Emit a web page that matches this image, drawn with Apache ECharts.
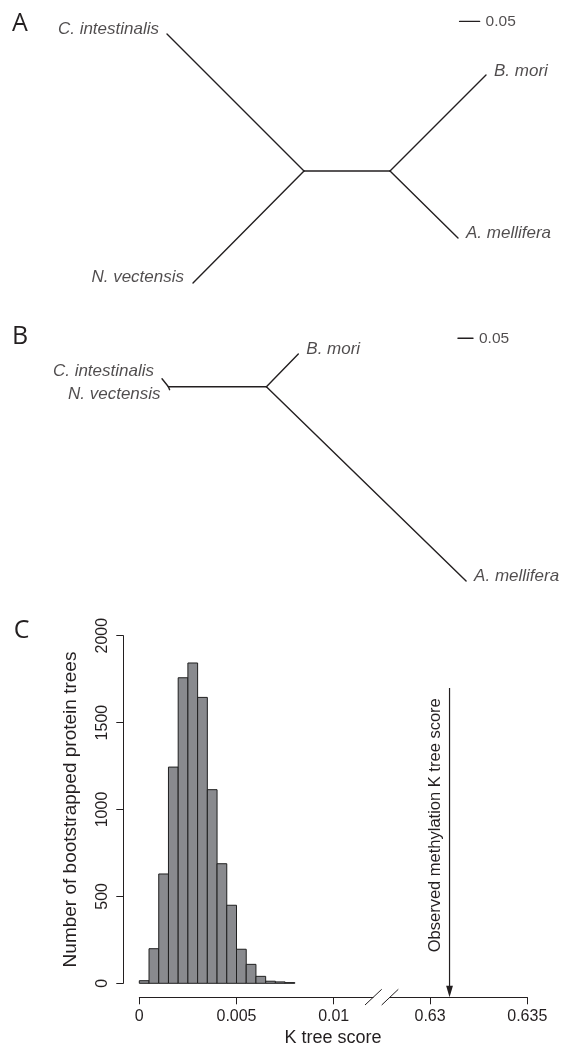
<!DOCTYPE html>
<html><head><meta charset="utf-8">
<script src="https://cdn.jsdelivr.net/npm/echarts@6/dist/echarts.min.js"></script>
<style>html,body{margin:0;padding:0;background:#fff}#c{width:562px;height:1056px}</style>
</head><body><div id="c"></div><script>
// ---------------- DATA ----------------
const taxa = ['C. intestinalis', 'N. vectensis', 'B. mori', 'A. mellifera'];
// Tree A (branch-length units, relative to the C/N internal node)
const treeA_innerX = [0, 0.215];
const treeA_innerY = [0, 0];
const treeA_tipX = [-0.3425, -0.2775, 0.455, 0.385];
const treeA_tipY = [0.3425, -0.28, 0.24, -0.1675];
const treeA_tipParent = [0, 0, 1, 1];
// Tree B
const treeB_innerX = [0, 0.3267];
const treeB_innerY = [0, 0];
const treeB_tipX = [-0.0213, 0.004, 0.433, 0.9923];
const treeB_tipY = [0.0267, -0.01, 0.109, -0.6477];
const treeB_tipParent = [0, 0, 1, 1];
const innerEdges = [[0, 1]];
const scaleBarLength = 0.05;
const scaleBarLabel = '0.05';
// Histogram C
const binEdges = [0, 0.0005, 0.001, 0.0015, 0.002, 0.0025, 0.003, 0.0035, 0.004, 0.0045, 0.005, 0.0055, 0.006, 0.0065, 0.007, 0.0075, 0.008];
const binCounts = [15, 199, 629, 1244, 1758, 1843, 1645, 1114, 688, 449, 196, 109, 40, 12, 8, 4];
const yTicks = [0, 500, 1000, 1500, 2000];
const xTicksLeft = [0, 0.005, 0.01];
const xTicksRight = [0.63, 0.635];
const observedK = 0.631;
const observedLabel = 'Observed methylation K tree score';
const xTitle = 'K tree score';
const yTitle = 'Number of bootstrapped protein trees';

// ---------------- LAYOUT ----------------
const FONT = '"Liberation Sans", Arial, Helvetica, sans-serif';
const INK = '#231f20';
const W = 562;
const LA = {top: 0, height: 300, ox: 304, oy: 171, ppu: 400, bar: [0.389, 0.374]};
const LB = {top: 300, height: 320, ox: 168.4, oy: 86.7, ppu: 300, bar: [0.9653, 0.1613]};
const labelLayoutA = [
  {pos: 'left', dist: 8, off: [0, -5]},
  {pos: 'left', dist: 9, off: [0, -6]},
  {pos: 'right', dist: 8, off: [0, -4]},
  {pos: 'right', dist: 8, off: [0, -5]}
];
const labelLayoutB = [
  {pos: 'left', dist: 8, off: [0, -7]},
  {pos: 'left', dist: 9, off: [0, 5]},
  {pos: 'right', dist: 8, off: [0, -5]},
  {pos: 'right', dist: 8, off: [0, -5]}
];
const C1 = {left: 139.3, top: 635.7, width: 233.7, height: 347.6};
const pxPerK = 97.2 / 0.005;
const C2 = {left: 390, top: 688, width: 137.3, height: 309.3};

function treeAxes(L, gi) {
  return {
    x: {gridIndex: gi, type: 'value', show: false, min: -L.ox / L.ppu, max: (W - L.ox) / L.ppu},
    y: {gridIndex: gi, type: 'value', show: false, min: -(L.height - L.oy) / L.ppu, max: L.oy / L.ppu}
  };
}
function segs(ix, iy, tx, ty, par) {
  const s = [];
  innerEdges.forEach(([a, b]) => s.push([ix[a], iy[a], ix[b], iy[b]]));
  tx.forEach((x, i) => s.push([ix[par[i]], iy[par[i]], x, ty[i]]));
  return s;
}
function segSeries(gi, data, lw) {
  return {
    type: 'custom', coordinateSystem: 'cartesian2d', xAxisIndex: gi, yAxisIndex: gi,
    data: data, encode: {x: [0, 2], y: [1, 3]}, clip: false, silent: true,
    renderItem(params, api) {
      const a = api.coord([api.value(0), api.value(1)]);
      const b = api.coord([api.value(2), api.value(3)]);
      return {type: 'line', shape: {x1: a[0], y1: a[1], x2: b[0], y2: b[1]},
        style: {stroke: INK, lineWidth: lw, lineCap: 'round'}};
    }
  };
}
function labelSeries(gi, tx, ty, names, lay) {
  return {
    type: 'scatter', xAxisIndex: gi, yAxisIndex: gi, symbolSize: 0, silent: true,
    data: tx.map((x, i) => ({value: [x, ty[i]], name: names[i],
      label: {position: lay[i].pos, distance: lay[i].dist, offset: lay[i].off}})),
    label: {show: true, formatter: '{b}', fontFamily: FONT, fontStyle: 'italic', fontSize: 17, color: INK}
  };
}
function barSeries(gi, L) {
  const x0 = L.bar[0], y0 = L.bar[1];
  return [
    segSeries(gi, [[x0, y0, x0 + scaleBarLength, y0]], 1.4),
    {type: 'scatter', xAxisIndex: gi, yAxisIndex: gi, symbolSize: 0, silent: true,
      data: [{value: [x0 + scaleBarLength, y0], name: scaleBarLabel}],
      label: {show: true, position: 'right', distance: 6, formatter: '{b}', fontFamily: FONT, fontSize: 15.5, color: INK}}
  ];
}

const aA = treeAxes(LA, 0), aB = treeAxes(LB, 1);
const axisText = {fontFamily: FONT, fontSize: 16, color: INK};

const option = {
  animation: false,
  backgroundColor: '#fff',
  grid: [
    {left: 0, top: LA.top, width: W, height: LA.height, outerBoundsMode: 'none'},
    {left: 0, top: LB.top, width: W, height: LB.height, outerBoundsMode: 'none'},
    {left: C1.left, top: C1.top, width: C1.width, height: C1.height, outerBoundsMode: 'none'},
    {left: C2.left, top: C2.top, width: C2.width, height: C2.height, outerBoundsMode: 'none'}
  ],
  xAxis: [aA.x, aB.x,
    {gridIndex: 2, type: 'value', min: 0, max: C1.width / pxPerK, offset: 14,
      axisLine: {show: true, onZero: false, lineStyle: {color: INK, width: 1}},
      axisTick: {show: true, length: 7, customValues: xTicksLeft, lineStyle: {color: INK}},
      axisLabel: Object.assign({show: true, margin: 11, customValues: xTicksLeft, formatter: v => String(v)}, axisText),
      splitLine: {show: false}},
    {gridIndex: 3, type: 'value', min: 0.635 - C2.width / pxPerK, max: 0.635,
      axisLine: {show: true, onZero: false, lineStyle: {color: INK, width: 1}},
      axisTick: {show: true, length: 7, customValues: xTicksRight, lineStyle: {color: INK}},
      axisLabel: Object.assign({show: true, margin: 11, customValues: xTicksRight, formatter: v => String(v)}, axisText),
      splitLine: {show: false}}
  ],
  yAxis: [aA.y, aB.y,
    {gridIndex: 2, type: 'value', min: yTicks[0], max: yTicks[yTicks.length - 1], interval: 500, offset: 16,
      axisLine: {show: true, onZero: false, lineStyle: {color: INK, width: 1}},
      axisTick: {show: true, length: 7, lineStyle: {color: INK}},
      axisLabel: Object.assign({show: true, rotate: 90, margin: 13, formatter: v => String(v)}, axisText),
      splitLine: {show: false},
      name: yTitle, nameLocation: 'middle', nameGap: 43,
      nameTextStyle: {fontFamily: FONT, fontSize: 19, color: INK}},
    {gridIndex: 3, type: 'value', show: false, min: 0, max: 1}
  ],
  series: [
    segSeries(0, segs(treeA_innerX, treeA_innerY, treeA_tipX, treeA_tipY, treeA_tipParent), 1.4),
    labelSeries(0, treeA_tipX, treeA_tipY, taxa, labelLayoutA),
    ...barSeries(0, LA),
    segSeries(1, segs(treeB_innerX, treeB_innerY, treeB_tipX, treeB_tipY, treeB_tipParent), 1.4),
    labelSeries(1, treeB_tipX, treeB_tipY, taxa, labelLayoutB),
    ...barSeries(1, LB),
    {type: 'custom', coordinateSystem: 'cartesian2d', xAxisIndex: 2, yAxisIndex: 2, silent: true,
      data: binCounts.map((c, i) => [binEdges[i], binEdges[i + 1], c]),
      encode: {x: [0, 1], y: 2},
      renderItem(params, api) {
        const p0 = api.coord([api.value(0), api.value(2)]);
        const p1 = api.coord([api.value(1), 0]);
        return {type: 'rect', shape: {x: p0[0], y: p0[1], width: p1[0] - p0[0], height: p1[1] - p0[1]},
          style: {fill: '#898a8e', stroke: '#1f1f1f', lineWidth: 1}};
      }},
    {type: 'custom', coordinateSystem: 'cartesian2d', xAxisIndex: 3, yAxisIndex: 3, silent: true, clip: false,
      data: [[observedK, 0]], encode: {x: 0, y: 1},
      renderItem(params, api) {
        const top = api.coord([api.value(0), 1]);
        const tip = api.coord([api.value(0), 0]);
        const head = 11.5, hw = 3.4;
        return {type: 'group', children: [
          {type: 'line', shape: {x1: top[0], y1: top[1], x2: tip[0], y2: tip[1] - head + 1},
            style: {stroke: INK, lineWidth: 1.2}},
          {type: 'polygon', shape: {points: [[tip[0] - hw, tip[1] - head], [tip[0] + hw, tip[1] - head], [tip[0], tip[1]]]},
            style: {fill: INK}},
          {type: 'text', x: tip[0] - 14.5, y: tip[1] - 45, rotation: Math.PI / 2,
            style: {text: observedLabel, fontFamily: FONT, fontSize: 16.5, fill: INK,
              align: 'left', verticalAlign: 'middle', textAlign: 'left', textVerticalAlign: 'middle'}}
        ]};
      }}
  ],
  graphic: [
    {type: 'text', x: 20, y: 24, style: {text: 'A', fontFamily: '"Open Sans", sans-serif', fontSize: 25, fill: INK, align: 'center', verticalAlign: 'middle', textAlign: 'center', textVerticalAlign: 'middle'}},
    {type: 'text', x: 20, y: 337, style: {text: 'B', fontFamily: '"Open Sans", sans-serif', fontSize: 25, fill: INK, align: 'center', verticalAlign: 'middle', textAlign: 'center', textVerticalAlign: 'middle'}},
    {type: 'text', x: 21.5, y: 631, style: {text: 'C', fontFamily: '"Open Sans", sans-serif', fontSize: 25, fill: INK, align: 'center', verticalAlign: 'middle', textAlign: 'center', textVerticalAlign: 'middle'}},
    {type: 'text', x: 333, y: 1038, style: {text: xTitle, fontFamily: FONT, fontSize: 18, fill: INK, align: 'center', verticalAlign: 'middle', textAlign: 'center', textVerticalAlign: 'middle'}},
    {type: 'line', shape: {x1: 365, y1: 1005, x2: 381.7, y2: 989.3}, style: {stroke: INK, lineWidth: 1}},
    {type: 'line', shape: {x1: 381.7, y1: 1005, x2: 398.3, y2: 989.3}, style: {stroke: INK, lineWidth: 1}}
  ]
};
const chart = echarts.init(document.getElementById('c'));
chart.setOption(option);
</script></body></html>
